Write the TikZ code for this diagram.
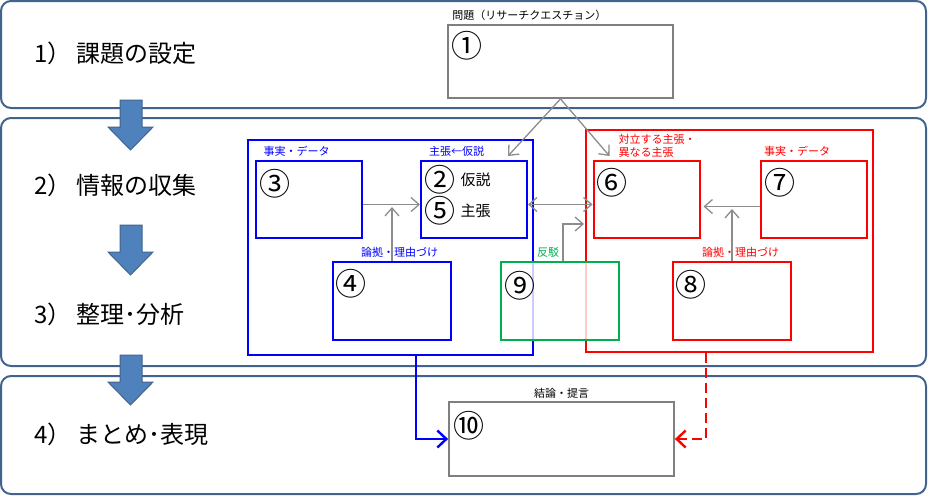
\documentclass[tikz,border=0pt]{standalone}
\usepackage{fontspec}
\setmainfont{Noto Sans CJK JP}
\usepackage{tikz}
\usetikzlibrary{arrows.meta, positioning}
\definecolor{panelc}{HTML}{41648F}
\definecolor{arrowc}{HTML}{4F81BD}
\definecolor{connc}{HTML}{8C8C8C}
\definecolor{boxc}{HTML}{7F7F7F}
\definecolor{grn}{HTML}{00B050}

\begin{document}
\begin{tikzpicture}[
	x=1pt, y=-1pt,
	>={Straight Barb[length=8pt,width=14pt]},
	Panel/.style={rectangle, draw=panelc, line width=2pt, rounded corners=10pt, minimum width=925pt},
	Stage/.style={anchor=west, inner sep=0pt, font=\fontsize{24}{27}\selectfont},
	BoxS/.style={rectangle, draw, line width=2pt, minimum width=106pt, minimum height=77pt},
	BoxM/.style={rectangle, draw, line width=2pt, minimum width=118pt, minimum height=78pt},
	BoxW/.style={rectangle, draw=boxc, line width=1.8pt, minimum width=225pt, minimum height=73pt},
	Group/.style={rectangle, draw, line width=2.6pt},
	Num/.style={inner sep=0pt, font=\fontsize{31}{31}\selectfont},
	Txt/.style={inner sep=0pt, font=\fontsize{15}{15}\selectfont},
	Tag/.style={inner sep=0pt, align=left, font=\fontsize{11}{13}\selectfont},
	Conn/.style={draw=connc, line width=1.3pt, ->},
	Concl/.style={line width=2.4pt, -{Straight Barb[length=9pt,width=17pt]}}
	]
\useasboundingbox (0,0) rectangle (929,496);

% stages
\node [Panel, minimum height=107pt] (p1) at (463.5,54.5) {};
\node [Panel, minimum height=248pt] (p2) at (463.5,242) {};
\node [Panel, minimum height=118pt] (p3) at (463.5,435) {};
\foreach \y in {100,225,355}
	\draw [fill=arrowc, draw=panelc, line width=1pt] (120,\y) -- (142,\y) -- (142,\y+27) -- (153,\y+27) -- (130.5,\y+50) -- (108,\y+27) -- (120,\y+27) -- cycle;
\node [Stage] (s1) at (34,53) {1） 課題の設定};
\node [Stage] (s2) at (34,185) {2） 情報の収集};
\node [Stage] (s3) at (34,314) {3） 整理･分析};
\node [Stage] (s4) at (34,434) {4） まとめ･表現};

% own side and opposing side
\node [Group, draw=blue, minimum width=285pt, minimum height=215pt] (mine) at (390.5,247.5) {};
\node [Group, draw=red, minimum width=287pt, minimum height=222pt] (theirs) at (729.5,241) {};

\node [BoxW] (question) at (560.5,61.5) {};
\node [BoxS, draw=blue] (facts) at (308.5,199.5) {};
\node [BoxS, draw=blue] (claim) at (474,199.5) {};
\node [BoxM, draw=blue] (warrant) at (392,301) {};
\node [BoxS, draw=red] (counter) at (646.5,199.5) {};
\node [BoxS, draw=red] (facts2) at (814,199.5) {};
\node [BoxM, draw=red] (warrant2) at (732,301) {};
\node [BoxM, draw=grn, fill=white, fill opacity=0.8] (rebut) at (560,301) {};
\node [BoxW, minimum height=74pt] (concl) at (561.5,439) {};

% numbers
\node [Num, below right=7pt and 4pt of question.north west] (n1) {①};
\node [Num, below right=9pt and 5pt of facts.north west] (n3) {③};
\node [Num, below right=5pt and 4pt of claim.north west] (n2) {②};
\node [Num, below=2pt of n2] (n5) {⑤};
\node [Txt, right=5pt of n2] (t2) {仮説};
\node [Txt, right=5pt of n5] (t5) {主張};
\node [Num, below right=8pt and 3pt of warrant.north west] (n4) {④};
\node [Num, below right=8pt and 4pt of counter.north west] (n6) {⑥};
\node [Num, below right=8pt and 4pt of facts2.north west] (n7) {⑦};
\node [Num, below right=9pt and 3pt of warrant2.north west] (n8) {⑧};
\node [Num, below right=10pt and 4pt of rebut.north west] (n9) {⑨};
\node [Num, below right=10pt and 5pt of concl.north west] (n10) {⑩};

% tags
\node [Tag, above right=3pt and 5pt of question.north west] (tq) {問題（リサーチクエスチョン）};
\node [Tag, text=blue, above right=3pt and 9pt of facts.north west] (tf) {事実・データ};
\node [Tag, text=blue, above right=3pt and 9pt of claim.north west] (tc) {主張←仮説};
\node [Tag, text=blue, above right=3pt and 29pt of warrant.north west] (tw) {論拠・理由づけ};
\node [Tag, text=grn, above right=3pt and 37pt of rebut.north west] (tr) {反駁};
\node [Tag, text=red, above right=2pt and 26pt of counter.north west] (to) {対立する主張・\\異なる主張};
\node [Tag, text=red, above right=3pt and 4pt of facts2.north west] (tf2) {事実・データ};
\node [Tag, text=red, above right=3pt and 30pt of warrant2.north west] (tw2) {論拠・理由づけ};
\node [Tag, above=3pt of concl] (tk) {結論・提言};

% connectors
\coordinate (j1) at (warrant.north |- 0,207);
\coordinate (j2) at (584,224);
\coordinate (j3) at (warrant2.north |- 0,209);
\draw [Conn] (question.south) -- ([xshift=-20pt, yshift=4pt]claim.north east);
\draw [Conn] (question.south) -- ([xshift=17pt, yshift=4pt]counter.north west);
\draw [Conn] ([yshift=-5pt]facts.east) -- ([yshift=-5pt]claim.west);
\draw [Conn] (warrant.north) -- (j1);
\draw [Conn, <->] ([yshift=-5pt]claim.east) -- ([yshift=-5pt]counter.west);
\draw [Conn] ([xshift=3pt]rebut.north) |- (j2);
\draw [Conn] ([yshift=-7pt]facts2.west) -- ([xshift=3pt, yshift=-7pt]counter.east);
\draw [Conn] (warrant2.north) -- (j3);
\draw [Concl, blue] ([xshift=25.5pt]mine.south) |- (concl.west);
\draw [Concl, red, dash pattern=on 10pt off 5pt] ([xshift=-23.5pt]theirs.south) |- (concl.east);

\end{tikzpicture}
\end{document}
